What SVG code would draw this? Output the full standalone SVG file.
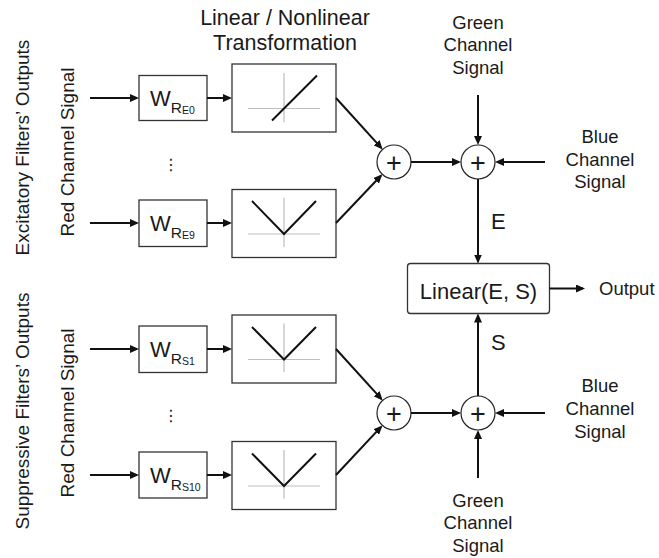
<svg xmlns="http://www.w3.org/2000/svg" width="659" height="558" viewBox="0 0 659 558">
  <style>
    text { font-family: "Liberation Sans", Arial, sans-serif; fill: #1a1a1a; }
    .title { font-size: 21.5px; text-anchor: middle; }
    .side { font-size: 19px; text-anchor: middle; }
    .lbl { font-size: 18.5px; text-anchor: middle; }
    .out { font-size: 18.5px; text-anchor: start; }
    .big { font-size: 22px; }
    .sum { font-size: 27px; text-anchor: middle; }
    .box { fill: #fff; stroke: #333; stroke-width: 1.3; }
    .axis { stroke: #bdbdbd; stroke-width: 1.2; fill: none; }
    .curve { stroke: #111; stroke-width: 2; fill: none; }
    .node circle { fill: #fff; stroke: #222; stroke-width: 1.2; }
    .wire { stroke: #111; stroke-width: 2; fill: none; marker-end: url(#arrow); }
    .dots { font-size: 16px; text-anchor: middle; font-family: "DejaVu Sans", sans-serif; }
  </style>
  <defs>
    <marker id="arrow" markerUnits="userSpaceOnUse" markerWidth="9" markerHeight="8" refX="7" refY="4" orient="auto">
      <path d="M0,0 L9,4 L0,8 z" fill="#111"/>
    </marker>
  </defs>

  <!-- headings -->
  <text class="title" x="285" y="25">Linear / Nonlinear</text>
  <text class="title" x="285" y="50">Transformation</text>
  <text class="side" transform="translate(28.5,147.5) rotate(-90)">Excitatory Filters’ Outputs</text>
  <text class="side" transform="translate(74,152) rotate(-90)">Red Channel Signal</text>
  <text class="side" transform="translate(28.5,411) rotate(-90)">Suppressive Filters’ Outputs</text>
  <text class="side" transform="translate(74,413) rotate(-90)">Red Channel Signal</text>
  <text class="dots" x="171" y="170">⋮</text>
  <text class="dots" x="171" y="421">⋮</text>

  <!-- weight blocks -->
  <g id="w-re0">
    <rect class="box" x="139" y="75.5" width="68" height="45"/>
    <text class="big" x="150" y="106">W<tspan font-size="15.5" dy="7">R</tspan><tspan font-size="10.5" dy="1">E0</tspan></text>
  </g>
  <g id="w-re9">
    <rect class="box" x="139" y="200" width="68" height="46.5"/>
    <text class="big" x="150" y="231">W<tspan font-size="15.5" dy="7">R</tspan><tspan font-size="10.5" dy="1">E9</tspan></text>
  </g>
  <g id="w-rs1">
    <rect class="box" x="139" y="326" width="68" height="46.5"/>
    <text class="big" x="150" y="357">W<tspan font-size="15.5" dy="7">R</tspan><tspan font-size="10.5" dy="1">S1</tspan></text>
  </g>
  <g id="w-rs10">
    <rect class="box" x="139" y="452" width="68" height="46"/>
    <text class="big" x="150" y="483">W<tspan font-size="15.5" dy="7">R</tspan><tspan font-size="10.5" dy="1">S10</tspan></text>
  </g>

  <!-- transformation blocks -->
  <g id="t-linear">
    <rect class="box" x="232" y="64" width="104" height="68"/>
    <path class="axis" d="M284,73 V122 M248,108.5 H320"/>
    <path class="curve" d="M272,120.5 L317,75.5"/>
  </g>
  <g id="t-abs-e9">
    <rect class="box" x="232" y="189.5" width="104" height="68"/>
    <path class="axis" d="M284,198 V247 M248,234 H320"/>
    <path class="curve" d="M252,201 L284,234 L316,201"/>
  </g>
  <g id="t-abs-s1">
    <rect class="box" x="232" y="315" width="104" height="68"/>
    <path class="axis" d="M284,323.5 V372 M248,359.5 H320"/>
    <path class="curve" d="M252,327 L284,359.5 L316,327"/>
  </g>
  <g id="t-abs-s10">
    <rect class="box" x="232" y="441.5" width="104" height="68"/>
    <path class="axis" d="M284,450 V498.5 M248,486 H320"/>
    <path class="curve" d="M252,453.5 L284,486 L316,453.5"/>
  </g>

  <!-- summing junctions -->
  <g id="sum-e1" class="node">
    <circle cx="394" cy="162" r="17"/>
    <text class="sum" x="394" y="171.5">+</text>
  </g>
  <g id="sum-e2" class="node">
    <circle cx="478" cy="162" r="17"/>
    <text class="sum" x="478" y="171.5">+</text>
  </g>
  <g id="sum-s1" class="node">
    <circle cx="394" cy="413" r="17"/>
    <text class="sum" x="394" y="422.5">+</text>
  </g>
  <g id="sum-s2" class="node">
    <circle cx="478" cy="413" r="17"/>
    <text class="sum" x="478" y="422.5">+</text>
  </g>

  <!-- combiner -->
  <g id="combiner">
    <rect class="box" x="407.5" y="263.5" width="142" height="50" rx="3"/>
    <text class="big" x="478.5" y="298.5" text-anchor="middle">Linear(E, S)</text>
  </g>

  <!-- outside signals -->
  <g id="green-top">
    <text class="lbl" x="478" y="28.5">Green</text>
    <text class="lbl" x="478" y="51">Channel</text>
    <text class="lbl" x="478" y="73.5">Signal</text>
  </g>
  <g id="blue-top">
    <text class="lbl" x="600" y="142.5">Blue</text>
    <text class="lbl" x="600" y="165.5">Channel</text>
    <text class="lbl" x="600" y="188">Signal</text>
  </g>
  <g id="blue-bottom">
    <text class="lbl" x="600" y="392">Blue</text>
    <text class="lbl" x="600" y="415">Channel</text>
    <text class="lbl" x="600" y="437.5">Signal</text>
  </g>
  <g id="green-bottom">
    <text class="lbl" x="478" y="506.5">Green</text>
    <text class="lbl" x="478" y="529">Channel</text>
    <text class="lbl" x="478" y="551.5">Signal</text>
  </g>
  <g id="output">
    <text class="out" x="599" y="295">Output</text>
  </g>

  <!-- connectors -->
  <g id="connectors">
    <path class="wire" d="M90,98 H137"/>
    <path class="wire" d="M90,223 H137"/>
    <path class="wire" d="M90,349 H137"/>
    <path class="wire" d="M90,475 H137"/>
    <path class="wire" d="M207,98 H230"/>
    <path class="wire" d="M207,223 H230"/>
    <path class="wire" d="M207,349 H230"/>
    <path class="wire" d="M207,475 H230"/>
    <path class="wire" d="M336,98 L381.3,147.9"/>
    <path class="wire" d="M336,223 L380.9,175.8"/>
    <path class="wire" d="M336,349 L381.3,398.9"/>
    <path class="wire" d="M336,475 L381,426.9"/>
    <path class="wire" d="M411,162 H459"/>
    <path class="wire" d="M411,413 H459"/>
    <path class="wire" d="M478,95 V143"/>
    <path class="wire" d="M545,162 H497"/>
    <path class="wire" d="M545,413 H497"/>
    <path class="wire" d="M478,478 V432"/>
    <path class="wire" d="M478,179 V261.5"/>
    <path class="wire" d="M478,396 V315.5"/>
    <path class="wire" d="M549.5,288.5 H583"/>
    <text class="big" x="491" y="229">E</text>
    <text class="big" x="491" y="350">S</text>
  </g>
</svg>
